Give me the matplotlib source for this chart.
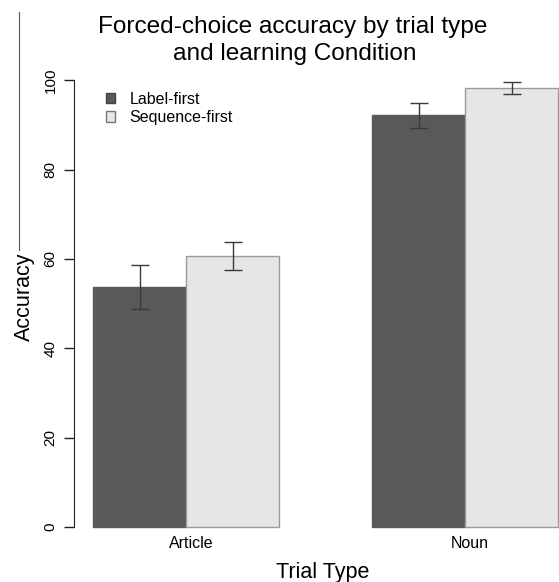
import numpy as np
import matplotlib.pyplot as plt
from matplotlib.lines import Line2D
from matplotlib.patches import Patch
from matplotlib.transforms import ScaledTranslation

plt.rcParams['font.family'] = ['Liberation Sans', 'DejaVu Sans']

# data
trial_types = ['Article', 'Noun']
conditions = ['Label-first', 'Sequence-first']
label_first = [53.7, 92.2]
label_first_err = [4.85, 2.8]
sequence_first = [60.7, 98.3]
sequence_first_err = [3.1, 1.4]

colors = ['#595959', '#e6e6e6']
edges = ['#595959', '#9a9a9a']

W, H = 559, 582
fig = plt.figure(figsize=(W / 100, H / 100), dpi=100)
# plot region of the original runs past the right edge of the cropped picture
ax = fig.add_axes([74.4 / W, 1 - 544.9 / H, 502.2 / W, 482.5 / H])

# R barplot style positions: groups of 2 bars, one bar gap between groups
group_start = np.array([1.0, 4.0])
pos_lf = group_start + 0.5
pos_sf = group_start + 1.5

ax.bar(pos_lf, label_first, width=1.0, color=colors[0], edgecolor=edges[0], linewidth=1)
ax.bar(pos_sf, sequence_first, width=1.0, color=colors[1], edgecolor=edges[1], linewidth=1)
ax.errorbar(pos_lf, label_first, yerr=label_first_err, fmt='none', ecolor='#3a3a3a',
            elinewidth=1, capsize=6.8, capthick=1)
ax.errorbar(pos_sf, sequence_first, yerr=sequence_first_err, fmt='none', ecolor='#3a3a3a',
            elinewidth=1, capsize=6.8, capthick=1)

ax.set_xlim(0.8, 6.2)
ax.set_ylim(-4, 104)

# axes styling like R base graphics
for s in ['top', 'right', 'bottom']:
    ax.spines[s].set_visible(False)
ax.spines['left'].set_bounds(0, 100)
ax.spines['left'].set_color('#222222')
ax.set_yticks([0, 20, 40, 60, 80, 100])
ax.tick_params(axis='y', direction='out', length=7, width=1, color='#222222',
               labelsize=11, pad=5)
for lbl in ax.get_yticklabels():
    lbl.set_rotation(90)
    lbl.set_va('center')
ax.set_xticks(group_start + 1.0)
ax.set_xticklabels(trial_types, fontsize=11.5)
ax.tick_params(axis='x', length=0, pad=-6.5)
shift = ScaledTranslation(5 / 100, 0, fig.dpi_scale_trans)
for lbl in ax.get_xticklabels():
    lbl.set_transform(lbl.get_transform() + shift)

# labels and title placed as in the original figure
fig.text(24 / W, 1 - 297 / H, 'Accuracy', rotation=90, ha='center', va='center',
         fontsize=15.5)
fig.text(323 / W, 1 - 578 / H, 'Trial Type', ha='center', va='baseline', fontsize=15.5)
fig.text(293 / W, 1 - 33 / H, 'Forced-choice accuracy by trial type',
         ha='center', va='baseline', fontsize=17.6)
fig.text(295 / W, 1 - 60 / H, 'and learning Condition',
         ha='center', va='baseline', fontsize=17.6)

handles = [Patch(facecolor=colors[0], edgecolor='#444444'),
           Patch(facecolor=colors[1], edgecolor='#777777')]
ax.legend(handles, conditions, loc='upper left', bbox_to_anchor=(25 / 502.2, 0.952),
          frameon=False, fontsize=11.5, handlelength=0.6, handleheight=0.6,
          handletextpad=0.9, labelspacing=0.2, borderaxespad=0)

# thin crop line at top-left of the original figure
fig.add_artist(Line2D([19 / W, 19 / W], [1 - 12 / H, 1 - 250 / H],
                      color='#555555', lw=0.8))

fig.savefig('out.png', dpi=100)
